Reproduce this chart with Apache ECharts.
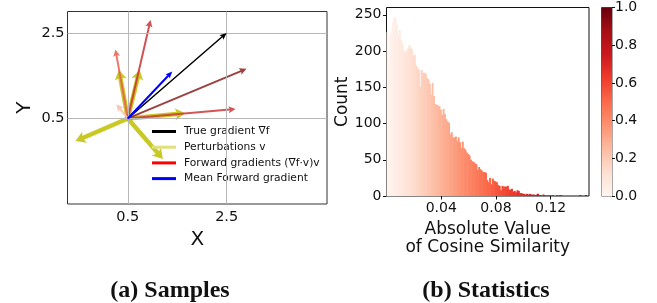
<!DOCTYPE html>
<html><head><meta charset="utf-8">
<script src="https://cdn.jsdelivr.net/npm/echarts@6/dist/echarts.min.js"></script>
<style>html,body{margin:0;padding:0;background:#fff}#c{width:657px;height:303px}</style>
</head><body><div id="c"></div>
<script>
// ---------- data: panel (a) quiver ----------
const quiverOrigin = [0.5, 0.5];
const trueGradient = [[2.5, 2.5]];
const perturbations = [[0.32, 1.64], [0.74, 1.64], [1.66, 0.62], [-0.56, -0.03], [1.21, -0.45]];
const forwardGradients = [[0.25, 2.11], [0.96, 2.80], [2.68, 0.72], [2.90, 1.66], [0.27, 0.83]];
const meanForwardGradient = [[1.40, 1.60]];
const quiverTicks = [0.5, 2.5];
const legendNames = ['True gradient \u2207f', 'Perturbations v', 'Forward gradients (\u2207f\u00b7v)v', 'Mean Forward gradient'];

// ---------- data: panel (b) histogram ----------
const histBinWidth = 0.001;
const histCounts = [226,190,222,228,240,247,246,236,220,229,
 216,210,199,201,199,203,208,205,202,193,
 195,180,177,174,151,174,170,170,169,163,
 161,155,140,156,138,127,126,125,124,119,
 112,120,113,106,103,101,85,88,81,81,
 82,76,81,74,66,75,66,64,60,58,
 56,50,48,47,45,44,36,40,37,35,
 33,33,32,22,19,25,16,24,21,20,
 19,15,14,8,14,13,13,13,14,9,
 9,10,6,7,5,8,7,4,4,3,
 3,2,3,2,3,2,2,2,1,2,
 3,1,1,0,2,1,0,1,0,1,
 0,1,0,0,1,0,1,1,0,0,
 0,0,0,0,0,0,0,0,0,0,
 0,1,0,0,0,1];
const histXTicks = [0.04, 0.08, 0.12];
const histYTicks = [0, 50, 100, 150, 200, 250];
const colorbarTicks = [0, 0.2, 0.4, 0.6, 0.8, 1.0];

// ---------- styles ----------
const REDS = ['#fff5f0','#fee0d2','#fcbba1','#fc9272','#fb6a4a','#ef3b2c','#cb181d','#a50f15','#67000d'];
const histNormMax = 0.146;
const forwardColors = ['rgba(232,95,80,0.85)','rgba(200,50,50,0.85)','rgba(205,55,55,0.85)','rgba(140,30,30,0.85)','rgba(248,190,170,0.9)'];
const legendColors = ['#000000', '#e0e07a', '#ff0000', '#0000ff'];
const FONT = 'DejaVu Sans';

function hex2rgb(h){return [parseInt(h.slice(1,3),16),parseInt(h.slice(3,5),16),parseInt(h.slice(5,7),16)];}
function reds(t){
  t = Math.max(0, Math.min(1, t));
  const p = t * 8, i = Math.min(7, Math.floor(p)), f = p - i;
  const a = hex2rgb(REDS[i]), b = hex2rgb(REDS[i+1]);
  return 'rgb(' + a.map((v,k)=>Math.round(v + (b[k]-v)*f)).join(',') + ')';
}

function arrowSeries(name, ends, colors, w, hw, hl, z){
  return {
    type: 'custom', name: name, xAxisIndex: 0, yAxisIndex: 0, z: z,
    itemStyle: {color: legendColors[legendNames.indexOf(name)]},
    data: ends.map(e => [quiverOrigin[0], quiverOrigin[1], e[0], e[1]]),
    encode: {x: [0, 2], y: [1, 3]},
    renderItem: function(params, api){
      const p0 = api.coord([api.value(0), api.value(1)]);
      const p1 = api.coord([api.value(2), api.value(3)]);
      const dx = p1[0]-p0[0], dy = p1[1]-p0[1];
      const L = Math.sqrt(dx*dx+dy*dy) || 1;
      const ux = dx/L, uy = dy/L, nx = -uy, ny = ux;
      const bh = Math.min(hl, L*0.6);
      const b1 = [p1[0]-ux*bh*0.85, p1[1]-uy*bh*0.85];
      const b2 = [p1[0]-ux*bh, p1[1]-uy*bh];
      const pts = [
        [p0[0]+nx*w/2, p0[1]+ny*w/2],
        [b1[0]+nx*w/2, b1[1]+ny*w/2],
        [b2[0]+nx*hw/2, b2[1]+ny*hw/2],
        [p1[0], p1[1]],
        [b2[0]-nx*hw/2, b2[1]-ny*hw/2],
        [b1[0]-nx*w/2, b1[1]-ny*w/2],
        [p0[0]-nx*w/2, p0[1]-ny*w/2]
      ];
      return {type: 'polygon', shape: {points: pts}, style: {fill: colors[params.dataIndex % colors.length]}};
    }
  };
}

const chart = echarts.init(document.getElementById('c'), null, {renderer: 'canvas'});
const option = {
  animation: false,
  backgroundColor: '#ffffff',
  textStyle: {fontFamily: FONT},
  grid: [
    {left: 67.5, top: 11.5, width: 259.5, height: 192.5, show: true, borderColor: '#333', borderWidth: 1, backgroundColor: 'transparent', containLabel: false},
    {left: 386.5, top: 7.5, width: 202.5, height: 188.5, show: true, borderColor: '#111', borderWidth: 1, backgroundColor: 'transparent', containLabel: false},
    {left: 601.5, top: 7.5, width: 10.5, height: 188.5, show: true, borderColor: '#555', borderWidth: 1, backgroundColor: 'transparent', containLabel: false}
  ],
  xAxis: [
    {gridIndex: 0, type: 'value', min: -0.72, max: 4.53,
     axisLine: {show: false}, axisTick: {show: false}, splitLine: {show: false},
     axisLabel: {customValues: quiverTicks, fontSize: 14.5, color: '#111', margin: 6, fontFamily: FONT},
     name: 'X', nameLocation: 'middle', nameGap: 25, nameTextStyle: {fontSize: 20, color: '#111', fontFamily: FONT}},
    {gridIndex: 1, type: 'value', min: 0, max: 0.148,
     axisLine: {show: false}, splitLine: {show: false},
     axisTick: {show: true, customValues: histXTicks, length: 3.5, lineStyle: {color: '#111'}},
     axisLabel: {customValues: histXTicks, fontSize: 14, color: '#111', margin: 5, fontFamily: FONT, formatter: v => v.toFixed(2)},
     name: 'Absolute Value\nof Cosine Similarity', nameLocation: 'middle', nameGap: 20,
     nameTextStyle: {fontSize: 17, lineHeight: 18.5, color: '#111', fontFamily: FONT, align: 'center', verticalAlign: 'top'}},
    {gridIndex: 2, type: 'category', data: ['cb'], show: false}
  ],
  yAxis: [
    {gridIndex: 0, type: 'value', min: -1.5, max: 3,
     axisLine: {show: false}, axisTick: {show: false}, splitLine: {show: false},
     axisLabel: {customValues: quiverTicks, fontSize: 14.5, color: '#111', margin: 3, fontFamily: FONT},
     name: 'Y', nameLocation: 'middle', nameRotate: 90, nameGap: 33, nameTextStyle: {fontSize: 20, color: '#111', fontFamily: FONT}},
    {gridIndex: 1, type: 'value', min: 0, max: 260,
     axisLine: {show: false}, splitLine: {show: false},
     axisTick: {show: true, customValues: histYTicks, length: 3.5, lineStyle: {color: '#111'}},
     axisLabel: {customValues: histYTicks, fontSize: 14, color: '#111', margin: 5, fontFamily: FONT},
     name: 'Count', nameLocation: 'middle', nameRotate: 90, nameGap: 33, nameTextStyle: {fontSize: 17, color: '#111', fontFamily: FONT}},
    {gridIndex: 2, type: 'value', position: 'right', min: 0, max: 1, interval: 0.2,
     axisLine: {show: false}, splitLine: {show: false},
     axisTick: {show: true, length: 3, lineStyle: {color: '#111'}},
     axisLabel: {fontSize: 14, color: '#111', margin: 3, fontFamily: FONT, formatter: v => v.toFixed(1)}}
  ],
  legend: {
    show: true, orient: 'vertical', left: 152, top: 126, itemWidth: 24, itemHeight: 3, itemGap: 4.7,
    icon: 'rect', selectedMode: false, padding: 0,
    textStyle: {fontFamily: FONT, fontSize: 10.7, color: '#111', padding: [0, 0, 0, 3]},
    data: legendNames.map((n, i) => ({name: n, itemStyle: {color: legendColors[i]}}))
  },
  series: [
    {type: 'line', xAxisIndex: 0, yAxisIndex: 0, data: [], z: 1, silent: true,
     markLine: {silent: true, symbol: ['none', 'none'], label: {show: false},
       lineStyle: {color: '#b8b8b8', width: 1, type: 'solid'},
       data: quiverTicks.map(v => ({xAxis: v})).concat(quiverTicks.map(v => ({yAxis: v})))}},
    arrowSeries(legendNames[1], perturbations, ['rgba(191,191,0,0.85)'], 4.5, 12, 10, 3),
    arrowSeries(legendNames[2], forwardGradients, forwardColors, 2, 7, 7, 4),
    arrowSeries(legendNames[0], trueGradient, ['#000000'], 1.5, 6, 7, 5),
    arrowSeries(legendNames[3], meanForwardGradient, ['#0000ff'], 2, 6, 7, 6),
    {type: 'custom', xAxisIndex: 1, yAxisIndex: 1, z: 2,
     data: histCounts.map((c, i) => [i * histBinWidth, (i + 1) * histBinWidth, c]),
     encode: {x: [0, 1], y: 2},
     renderItem: function(params, api){
       const x0 = api.value(0), x1 = api.value(1), c = api.value(2);
       if (!c) return null;
       const pa = api.coord([x0, c]), pb = api.coord([x1, 0]);
       return {type: 'rect', shape: {x: pa[0], y: pa[1], width: pb[0] - pa[0] + 0.6, height: pb[1] - pa[1]},
               style: {fill: reds(((x0 + x1) / 2) / histNormMax)}};
     }},
    {type: 'bar', xAxisIndex: 2, yAxisIndex: 2, data: [1], barWidth: '100%', silent: true, z: 1,
     itemStyle: {color: {type: 'linear', x: 0, y: 0, x2: 0, y2: 1,
       colorStops: REDS.slice().reverse().map((c, i) => ({offset: i / 8, color: c}))}}}
  ],
  graphic: [
    {type: 'text', x: 170, y: 291, style: {text: '(a) Samples', font: 'bold 24px "Liberation Serif"', fill: '#111', align: 'center', verticalAlign: 'middle'}},
    {type: 'text', x: 486, y: 291, style: {text: '(b) Statistics', font: 'bold 24px "Liberation Serif"', fill: '#111', align: 'center', verticalAlign: 'middle'}}
  ]
};
chart.setOption(option);
</script>
</body></html>
